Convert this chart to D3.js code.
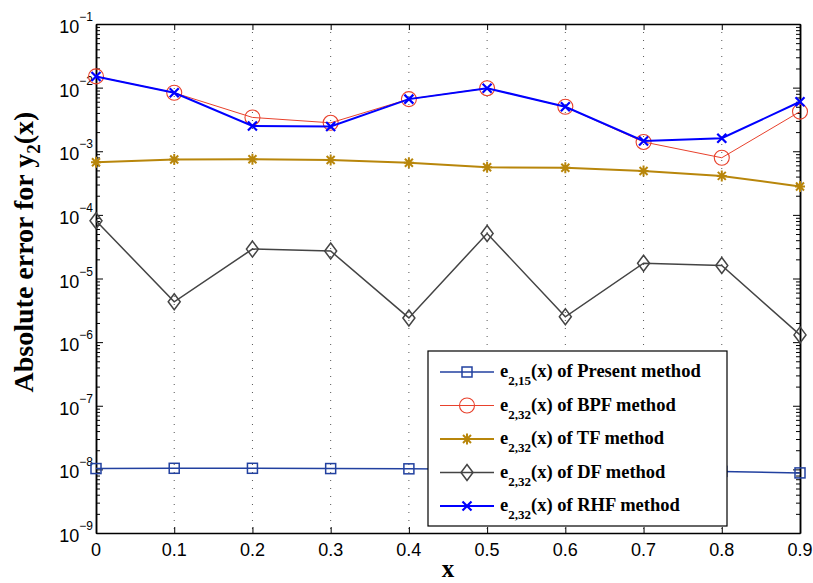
<!DOCTYPE html>
<html>
<head>
<meta charset="utf-8">
<script src="https://cdn.jsdelivr.net/npm/d3@7"></script>
<style>
  body { margin: 0; background: #fff; }
  svg { display: block; }
</style>
</head>
<body>
<div id="chart"></div>
<script>
// x positions
var xVals = [0, 0.1, 0.2, 0.3, 0.4, 0.5, 0.6, 0.7, 0.8, 0.9];

// absolute errors
var presentErr = [1.03e-8, 1.04e-8, 1.04e-8, 1.03e-8, 1.02e-8, 1.0e-8, 0.98e-8, 0.96e-8, 0.93e-8, 0.88e-8];
var bpfErr = [1.5e-2, 8.3e-3, 3.4e-3, 2.8e-3, 6.6e-3, 9.8e-3, 5.0e-3, 1.4e-3, 7.9e-4, 4.2e-3];
var tfErr = [6.7e-4, 7.4e-4, 7.5e-4, 7.3e-4, 6.6e-4, 5.6e-4, 5.5e-4, 4.9e-4, 4.1e-4, 2.8e-4];
var dfErr = [8.1e-5, 4.3e-6, 2.9e-5, 2.7e-5, 2.4e-6, 5.1e-5, 2.5e-6, 1.74e-5, 1.6e-5, 1.3e-6];
var rhfErr = [1.5e-2, 8.3e-3, 2.5e-3, 2.45e-3, 6.6e-3, 9.8e-3, 5.0e-3, 1.45e-3, 1.6e-3, 6.0e-3];

var xTickLabels = ["0", "0.1", "0.2", "0.3", "0.4", "0.5", "0.6", "0.7", "0.8", "0.9"];
var yDecades = [-9, -8, -7, -6, -5, -4, -3, -2, -1];

var series = [
  {name: "Present", sub: "2,15", values: presentErr, color: "#2241a0", width: 1.5, marker: "square"},
  {name: "BPF", sub: "2,32", values: bpfErr, color: "#e8412c", width: 1, marker: "circle"},
  {name: "TF", sub: "2,32", values: tfErr, color: "#b8860b", width: 2, marker: "star"},
  {name: "DF", sub: "2,32", values: dfErr, color: "#444444", width: 1.5, marker: "diamond"},
  {name: "RHF", sub: "2,32", values: rhfErr, color: "#0000ff", width: 2, marker: "cross"}
];

var svg_width = 813, svg_height = 583;
var margins = {top: 24, bottom: 50, left: 96, right: 13};
var width = svg_width - margins.left - margins.right;
var height = svg_height - margins.top - margins.bottom;

var svg = d3.select("#chart").append("svg")
  .attr("width", svg_width)
  .attr("height", svg_height);

var g = svg.append("g")
  .attr("transform", "translate(" + margins.left + "," + margins.top + ")");

var x = d3.scaleLinear().domain([0, 0.9]).range([0, width]);
var y = d3.scaleLog().domain([1e-9, 1e-1]).range([height, 0]);

var majorY = yDecades.map(d => Math.pow(10, d));
var minorY = y.ticks().filter(d => {
  var l = Math.log10(d);
  return Math.abs(l - Math.round(l)) > 1e-6;
});

// dotted vertical grid
g.append("g")
  .attr("class", "grid")
  .selectAll("line")
  .data(xVals.slice(1, -1))
  .enter().append("line")
  .attr("x1", d => x(d)).attr("x2", d => x(d))
  .attr("y1", 0).attr("y2", height)
  .style("stroke", "#555")
  .style("stroke-width", 1)
  .style("stroke-dasharray", "1,7");

// axes with inward ticks
function styleAxis(sel) {
  sel.selectAll("path").style("stroke", "#000").style("stroke-width", 1.5);
  sel.selectAll("line").style("stroke", "#000").style("stroke-width", 1);
  sel.selectAll("text").remove();
}

g.append("g").attr("transform", "translate(0," + height + ")")
  .call(d3.axisBottom(x).tickValues(xVals).tickSizeInner(-6).tickSizeOuter(0).tickFormat(""))
  .call(styleAxis);
g.append("g")
  .call(d3.axisTop(x).tickValues(xVals).tickSizeInner(-6).tickSizeOuter(0).tickFormat(""))
  .call(styleAxis);
g.append("g")
  .call(d3.axisLeft(y).tickValues(majorY).tickSizeInner(-7).tickSizeOuter(0).tickFormat(""))
  .call(styleAxis);
g.append("g")
  .call(d3.axisLeft(y).tickValues(minorY).tickSizeInner(-4).tickSizeOuter(0).tickFormat(""))
  .call(styleAxis);
g.append("g").attr("transform", "translate(" + width + ",0)")
  .call(d3.axisRight(y).tickValues(majorY).tickSizeInner(-7).tickSizeOuter(0).tickFormat(""))
  .call(styleAxis);
g.append("g").attr("transform", "translate(" + width + ",0)")
  .call(d3.axisRight(y).tickValues(minorY).tickSizeInner(-4).tickSizeOuter(0).tickFormat(""))
  .call(styleAxis);

// tick labels
g.append("g").selectAll("text")
  .data(xVals)
  .enter().append("text")
  .attr("x", d => x(d))
  .attr("y", height + 23)
  .attr("text-anchor", "middle")
  .style("font-family", "Liberation Sans, Arial, sans-serif")
  .style("font-size", "18px")
  .text((d, i) => xTickLabels[i]);

var yLab = g.append("g").selectAll("text")
  .data(yDecades)
  .enter().append("text")
  .attr("x", -3)
  .attr("y", d => y(Math.pow(10, d)) + 9)
  .attr("text-anchor", "end")
  .style("font-family", "Liberation Sans, Arial, sans-serif")
  .style("font-size", "18px");
yLab.append("tspan").text("10");
yLab.append("tspan").attr("dy", -12).style("font-size", "12px").text(d => "\u2212" + Math.abs(d));

// lines
var line = d3.line()
  .x((d, i) => x(xVals[i]))
  .y(d => y(d));

function drawMarker(sel, type, color) {
  if (type == "square") {
    sel.append("rect").attr("x", -5).attr("y", -5).attr("width", 10).attr("height", 10)
      .style("fill", "none").style("stroke", color).style("stroke-width", 1.5);
  } else if (type == "circle") {
    sel.append("circle").attr("r", 7.5)
      .style("fill", "none").style("stroke", color).style("stroke-width", 1.1);
  } else if (type == "star") {
    sel.append("path").attr("d", "M-5,0L5,0M0,-5.5L0,5.5M-4,-4L4,4M-4,4L4,-4")
      .style("fill", "none").style("stroke", color).style("stroke-width", 2);
  } else if (type == "diamond") {
    sel.append("path").attr("d", "M0,-8L6,0L0,8L-6,0Z")
      .style("fill", "none").style("stroke", color).style("stroke-width", 1.5);
  } else if (type == "cross") {
    sel.append("path").attr("d", "M-4.5,-4.5L4.5,4.5M-4.5,4.5L4.5,-4.5")
      .style("fill", "none").style("stroke", color).style("stroke-width", 2.2);
  }
}

series.forEach(s => {
  var sg = g.append("g").attr("class", "series " + s.name);
  sg.append("path")
    .datum(s.values)
    .attr("d", line)
    .style("fill", "none")
    .style("stroke", s.color)
    .style("stroke-width", s.width);
  sg.selectAll("g.mk")
    .data(s.values)
    .enter().append("g")
    .attr("class", "mk")
    .attr("transform", (d, i) => "translate(" + x(xVals[i]) + "," + y(d) + ")")
    .each(function() { drawMarker(d3.select(this), s.marker, s.color); });
});

// legend
var legX = 428 - margins.left, legY = 351 - margins.top;
var legend = g.append("g").attr("transform", "translate(" + legX + "," + legY + ")");
legend.append("rect")
  .attr("width", 299).attr("height", 175)
  .style("fill", "#fff").style("stroke", "#000").style("stroke-width", 1.2);

var rows = legend.selectAll("g.row")
  .data(series)
  .enter().append("g")
  .attr("class", "row")
  .attr("transform", (d, i) => "translate(0," + (21 + i * 33.5) + ")");
rows.append("line")
  .attr("x1", 12).attr("x2", 66)
  .style("stroke", d => d.color)
  .style("stroke-width", d => d.width);
rows.append("g")
  .attr("transform", "translate(39,0)")
  .each(function(d) { drawMarker(d3.select(this), d.marker, d.color); });
var lt = rows.append("text")
  .attr("x", 72).attr("y", 5)
  .style("font-family", "Liberation Serif, Times New Roman, serif")
  .style("font-weight", "bold")
  .style("font-size", "18.5px");
lt.append("tspan").text("e");
lt.append("tspan").attr("dy", 8).style("font-size", "13px").text(d => d.sub);
lt.append("tspan").attr("dy", -8).text(d => "(x) of " + d.name + " method");

// axis titles
svg.append("text")
  .attr("x", 448).attr("y", 577)
  .attr("text-anchor", "middle")
  .style("font-family", "Liberation Serif, Times New Roman, serif")
  .style("font-weight", "bold")
  .style("font-size", "25px")
  .text("x");

var yt = svg.append("text")
  .attr("transform", "translate(33," + 252 + ") rotate(-90)")
  .attr("text-anchor", "middle")
  .style("font-family", "Liberation Serif, Times New Roman, serif")
  .style("font-weight", "bold")
  .style("font-size", "28px");
yt.append("tspan").text("Absolute error for y");
yt.append("tspan").attr("dy", 7).style("font-size", "19px").text("2");
yt.append("tspan").attr("dy", -7).text("(x)");
</script>
</body>
</html>
